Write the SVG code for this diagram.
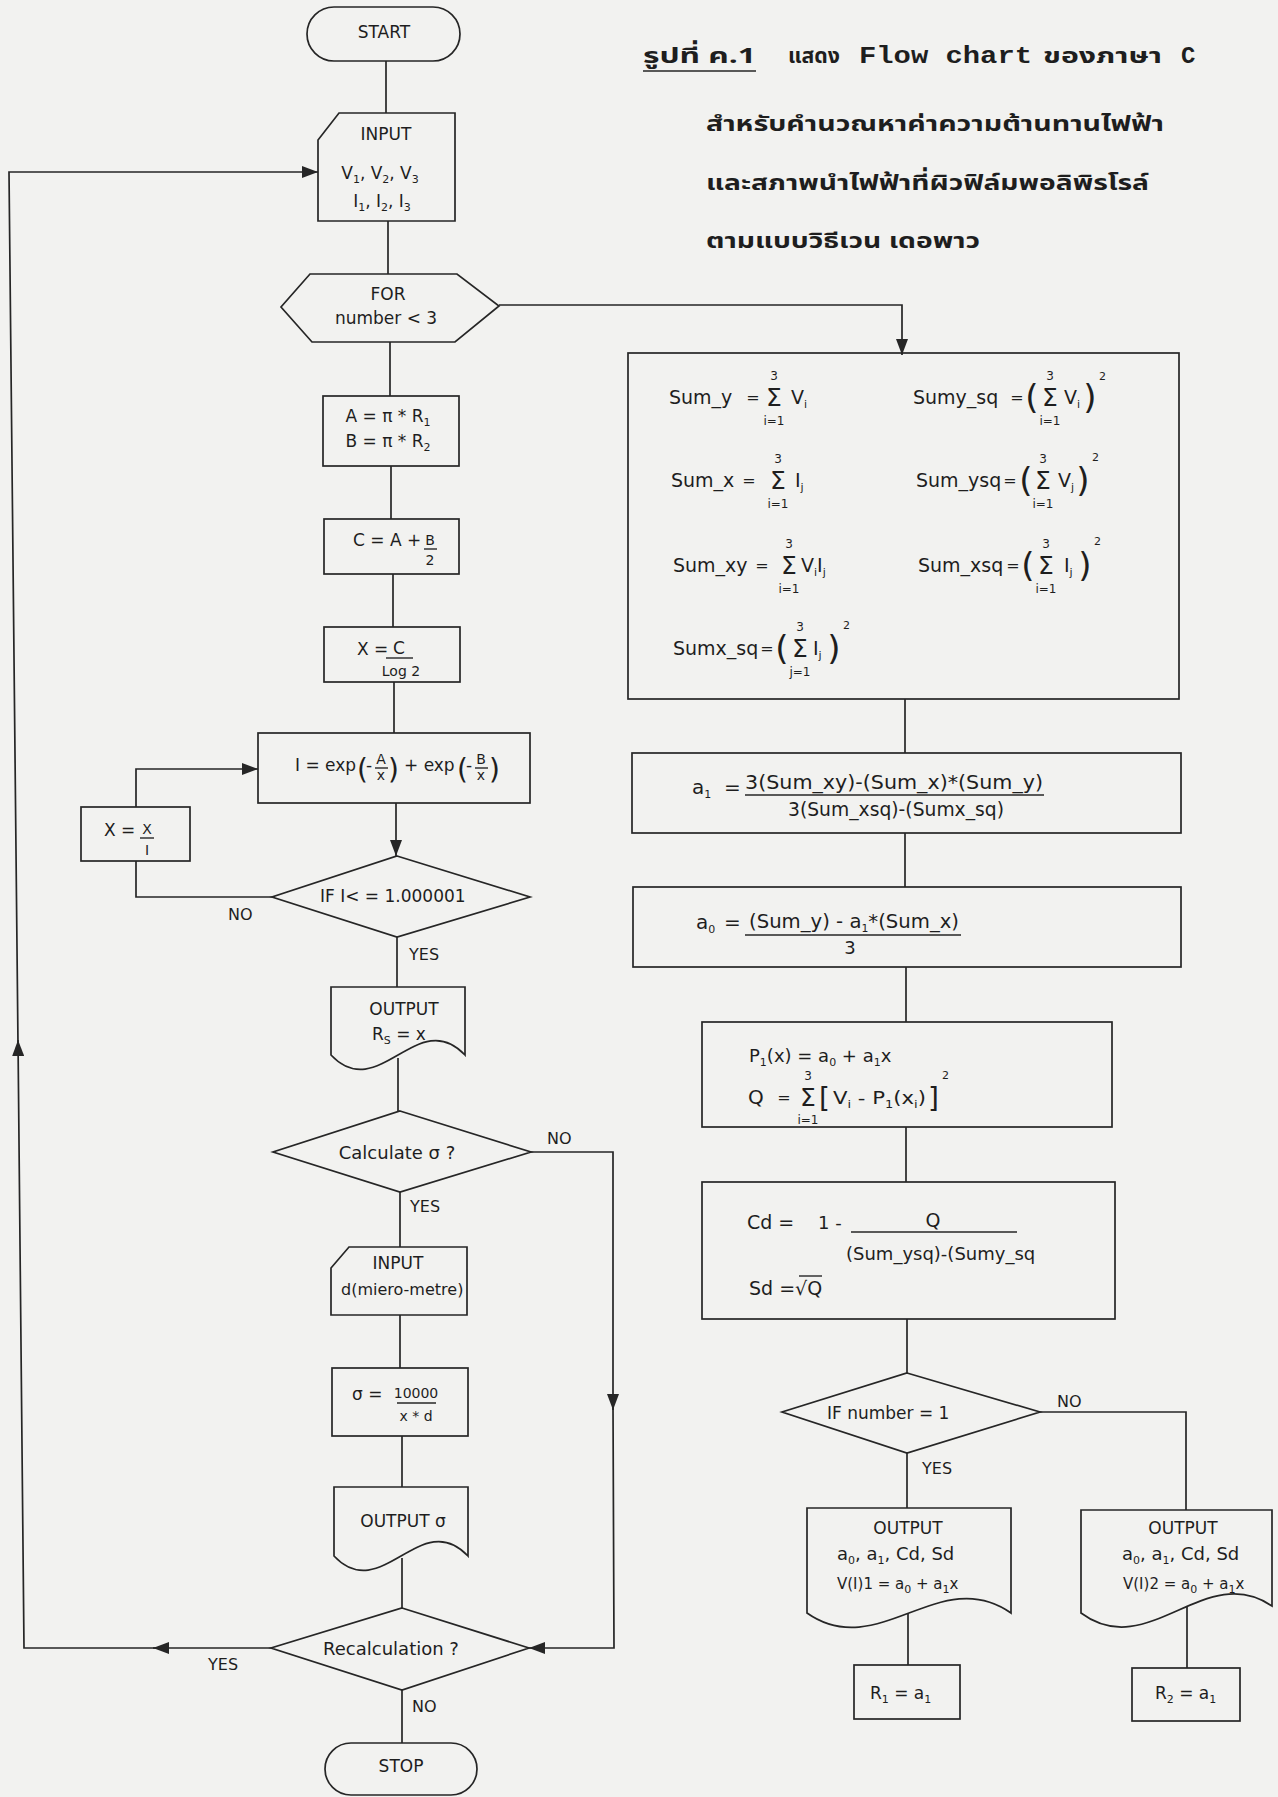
<svg xmlns="http://www.w3.org/2000/svg" width="1278" height="1797" viewBox="0 0 1278 1797">
<defs>
<style>
.n{fill:none;stroke:#262626;stroke-width:1.7}
.c{fill:none;stroke:#262626;stroke-width:1.7}
.fl{stroke:#262626;stroke-width:1.4}
text{font-family:"DejaVu Sans","Liberation Sans",sans-serif;fill:#1e1e1e;font-size:17px}
.m{text-anchor:middle}
.s{font-size:11px}
.sm{font-size:14px}
.lb{font-size:16px}
.bg{font-size:19px}
.eq{font-size:16px;text-anchor:middle}
.lim{font-size:12px;text-anchor:middle}
.sig{font-size:25px;text-anchor:middle}
.par{font-size:34px;text-anchor:middle}
.pp{font-size:28px}
.th{font-family:"Noto Sans Thai","Noto Serif Thai","TlwgTypewriter","Garuda","Loma","Noto Sans",sans-serif;font-weight:bold;font-size:22px}
.mono{font-family:"Liberation Mono","DejaVu Sans Mono",monospace;font-weight:bold;font-size:24px}
</style>
<marker id="ah" viewBox="0 0 16 12" refX="16" refY="6" markerWidth="16" markerHeight="12" markerUnits="userSpaceOnUse" orient="auto"><path d="M0,0 L16,6 L0,12 z" fill="#262626"/></marker>
</defs>
<rect x="0" y="0" width="1278" height="1797" fill="#f2f2f0"/>

<g id="title">
<text class="th" x="643" y="63" textLength="113" lengthAdjust="spacingAndGlyphs">รูปที่ ค.1</text>
<line x1="643" y1="71" x2="756" y2="71" class="fl"/>
<text class="th" x="788" y="63" textLength="52" lengthAdjust="spacingAndGlyphs">แสดง</text>
<text class="mono" x="859" y="63" textLength="173" lengthAdjust="spacingAndGlyphs">Flow chart</text>
<text class="th" x="1043" y="63" textLength="119" lengthAdjust="spacingAndGlyphs">ของภาษา</text>
<text class="mono" x="1181" y="63">C</text>
<text class="th" x="706" y="131" textLength="458" lengthAdjust="spacingAndGlyphs">สำหรับคำนวณหาค่าความต้านทานไฟฟ้า</text>
<text class="th" x="706" y="190" textLength="443" lengthAdjust="spacingAndGlyphs">และสภาพนำไฟฟ้าที่ผิวฟิล์มพอลิพิรโรล์</text>
<text class="th" x="706" y="248" textLength="274" lengthAdjust="spacingAndGlyphs">ตามแบบวิธีเวน เดอพาว</text>
</g>

<g id="connectors">
<path class="c" d="M386,61 V113"/>
<path class="c" d="M388,221 V274"/>
<path class="c" d="M499,305 H902 V355" marker-end="url(#ah)"/>
<path class="c" d="M390,342 V396"/>
<path class="c" d="M391,466 V519"/>
<path class="c" d="M393,574 V627"/>
<path class="c" d="M394,682 V733"/>
<path class="c" d="M396,803 V856" marker-end="url(#ah)"/>
<path class="c" d="M272,897 H136 V861"/>
<path class="c" d="M136,807 V769 H258" marker-end="url(#ah)"/>
<path class="c" d="M397,937 V987"/>
<path class="c" d="M398,1058 V1111"/>
<path class="c" d="M400,1192 V1247"/>
<path class="c" d="M531,1152 H613 V1410" marker-end="url(#ah)"/>
<path class="c" d="M613,1405 L614,1648 H529" marker-end="url(#ah)"/>
<path class="c" d="M400,1315 V1368"/>
<path class="c" d="M402,1436 V1487"/>
<path class="c" d="M402,1558 V1608"/>
<path class="c" d="M271,1648 H153" marker-end="url(#ah)"/>
<path class="c" d="M158,1648 H24 L18,1040" marker-end="url(#ah)"/>
<path class="c" d="M18,1045 L9,172 H318" marker-end="url(#ah)"/>
<path class="c" d="M402,1690 V1743"/>
<path class="c" d="M905,699 V753"/>
<path class="c" d="M905,833 V887"/>
<path class="c" d="M906,967 V1022"/>
<path class="c" d="M906,1127 V1182"/>
<path class="c" d="M907,1319 V1373"/>
<path class="c" d="M907,1453 V1508"/>
<path class="c" d="M1040,1412 H1186 V1510"/>
<path class="c" d="M908,1613 V1665"/>
<path class="c" d="M1187,1606 V1668"/>
<text class="lb" x="228" y="920">NO</text>
<text class="lb" x="409" y="960">YES</text>
<text class="lb" x="547" y="1144">NO</text>
<text class="lb" x="410" y="1212">YES</text>
<text class="lb" x="208" y="1670">YES</text>
<text class="lb" x="412" y="1712">NO</text>
<text class="lb" x="1057" y="1407">NO</text>
<text class="lb" x="922" y="1474">YES</text>
</g>

<g id="start">
<rect class="n" x="307" y="7" width="153" height="54" rx="27"/>
<text class="m" x="384" y="38">START</text>
</g>

<g id="input1">
<path class="n" d="M339,113 H455 V221 H318 V140 Z"/>
<text class="m" x="386" y="140">INPUT</text>
<text class="m" x="380" y="179">V<tspan class="s" baseline-shift="-4">1</tspan>, V<tspan class="s" baseline-shift="-4">2</tspan>, V<tspan class="s" baseline-shift="-4">3</tspan></text>
<text class="m" x="382" y="207">I<tspan class="s" baseline-shift="-4">1</tspan>, I<tspan class="s" baseline-shift="-4">2</tspan>, I<tspan class="s" baseline-shift="-4">3</tspan></text>
</g>

<g id="for">
<polygon class="n" points="310,274 457,274 499,306 455,342 312,342 281,307"/>
<text class="m" x="388" y="300">FOR</text>
<text class="m" x="386" y="324">number &lt; 3</text>
</g>

<g id="ab">
<rect class="n" x="323" y="396" width="136" height="70"/>
<text class="m" x="388" y="422">A = π * R<tspan class="s" baseline-shift="-4">1</tspan></text>
<text class="m" x="388" y="447">B = π * R<tspan class="s" baseline-shift="-4">2</tspan></text>
</g>

<g id="cbox">
<rect class="n" x="324" y="519" width="135" height="55"/>
<text x="353" y="546">C = A +</text>
<text class="m sm" x="430" y="545">B</text>
<line class="fl" x1="424" y1="549" x2="437" y2="549"/>
<text class="m sm" x="430" y="565">2</text>
</g>

<g id="xbox">
<rect class="n" x="324" y="627" width="136" height="55"/>
<text x="357" y="655">X =</text>
<text class="m" x="399" y="654">C</text>
<line class="fl" x1="386" y1="658" x2="413" y2="658"/>
<text class="m sm" x="401" y="676">Log 2</text>
</g>

<g id="ibox">
<rect class="n" x="258" y="733" width="272" height="70"/>
<text x="295" y="771">I = exp</text>
<text class="pp" x="357" y="779">(</text>
<text x="366" y="771">-</text>
<text class="m sm" x="381" y="764">A</text>
<line class="fl" x1="375" y1="768" x2="388" y2="768"/>
<text class="m sm" x="381" y="780">x</text>
<text class="pp" x="388" y="779">)</text>
<text x="404" y="771">+ exp</text>
<text class="pp" x="457" y="779">(</text>
<text x="466" y="771">-</text>
<text class="m sm" x="481" y="764">B</text>
<line class="fl" x1="475" y1="768" x2="488" y2="768"/>
<text class="m sm" x="481" y="780">x</text>
<text class="pp" x="489" y="779">)</text>
</g>

<g id="xibox">
<rect class="n" x="81" y="807" width="109" height="54"/>
<text x="104" y="836">X =</text>
<text class="m sm" x="147" y="834">X</text>
<line class="fl" x1="140" y1="838" x2="154" y2="838"/>
<text class="m sm" x="147" y="855">I</text>
</g>

<g id="if1">
<polygon class="n" points="397,856 530,897 397,937 272,897"/>
<text x="320" y="902">IF  I&lt; = 1.000001</text>
</g>

<g id="outrs">
<path class="n" d="M331,987 H465 V1055 C418,1005 378,1105 331,1055 Z"/>
<text class="m" x="404" y="1015">OUTPUT</text>
<text x="372" y="1040">R<tspan class="s" baseline-shift="-4">S</tspan> = x</text>
</g>

<g id="calc">
<polygon class="n" points="400,1111 531,1152 400,1192 273,1152"/>
<text class="m" x="397" y="1159" style="font-size:18px">Calculate σ ?</text>
</g>

<g id="inputd">
<path class="n" d="M349,1247 H467 V1315 H331 V1268 Z"/>
<text class="m" x="398" y="1269">INPUT</text>
<text x="341" y="1295" style="font-size:16px">d(miero-metre)</text>
</g>

<g id="sigbox">
<rect class="n" x="332" y="1368" width="136" height="68"/>
<text x="352" y="1400">σ =</text>
<text class="m sm" x="416" y="1398">10000</text>
<line class="fl" x1="397" y1="1403" x2="436" y2="1403"/>
<text class="m sm" x="416" y="1421">x * d</text>
</g>

<g id="outsig">
<path class="n" d="M334,1487 H468 V1556 C421,1506 381,1606 334,1556 Z"/>
<text class="m" x="403" y="1527">OUTPUT σ</text>
</g>

<g id="recalc">
<polygon class="n" points="402,1608 529,1648 402,1690 271,1648"/>
<text class="m" x="391" y="1655" style="font-size:18px">Recalculation ?</text>
</g>

<g id="stop">
<rect class="n" x="325" y="1743" width="152" height="52" rx="26"/>
<text class="m" x="401" y="1772">STOP</text>
</g>

<g id="sums">
<rect class="n" x="628" y="353" width="551" height="346"/>
<text class="bg" x="669" y="404">Sum_y</text>
<text class="eq" x="753" y="403">=</text>
<text class="sig" x="774" y="406">Σ</text>
<text class="lim" x="774" y="380">3</text>
<text class="lim" x="774" y="425">i=1</text>
<text class="bg" x="791" y="404">V<tspan class="s" baseline-shift="-4">i</tspan></text>
<text class="bg" x="913" y="404">Sumy_sq</text>
<text class="eq" x="1017" y="403">=</text>
<text class="par" x="1032" y="409">(</text>
<text class="sig" x="1050" y="406">Σ</text>
<text class="lim" x="1050" y="380">3</text>
<text class="lim" x="1050" y="425">i=1</text>
<text class="bg" x="1064" y="404">V<tspan class="s" baseline-shift="-4">i</tspan></text>
<text class="par" x="1090" y="409">)</text>
<text class="s" x="1099" y="380">2</text>

<text class="bg" x="671" y="487">Sum_x</text>
<text class="eq" x="749" y="486">=</text>
<text class="sig" x="778" y="489">Σ</text>
<text class="lim" x="778" y="463">3</text>
<text class="lim" x="778" y="508">i=1</text>
<text class="bg" x="795" y="487">I<tspan class="s" baseline-shift="-4">j</tspan></text>
<text class="bg" x="916" y="487">Sum_ysq</text>
<text class="eq" x="1010" y="486">=</text>
<text class="par" x="1026" y="492">(</text>
<text class="sig" x="1043" y="489">Σ</text>
<text class="lim" x="1043" y="463">3</text>
<text class="lim" x="1043" y="508">i=1</text>
<text class="bg" x="1058" y="487">V<tspan class="s" baseline-shift="-4">j</tspan></text>
<text class="par" x="1083" y="492">)</text>
<text class="s" x="1092" y="461">2</text>

<text class="bg" x="673" y="572">Sum_xy</text>
<text class="eq" x="762" y="571">=</text>
<text class="sig" x="789" y="574">Σ</text>
<text class="lim" x="789" y="548">3</text>
<text class="lim" x="789" y="593">i=1</text>
<text class="bg" x="801" y="572">V<tspan class="s" baseline-shift="-4">i</tspan>I<tspan class="s" baseline-shift="-4">j</tspan></text>
<text class="bg" x="918" y="572">Sum_xsq</text>
<text class="eq" x="1013" y="571">=</text>
<text class="par" x="1028" y="577">(</text>
<text class="sig" x="1046" y="574">Σ</text>
<text class="lim" x="1046" y="548">3</text>
<text class="lim" x="1046" y="593">i=1</text>
<text class="bg" x="1064" y="572">I<tspan class="s" baseline-shift="-4">j</tspan></text>
<text class="par" x="1085" y="577">)</text>
<text class="s" x="1094" y="545">2</text>

<text class="bg" x="673" y="655">Sumx_sq</text>
<text class="eq" x="767" y="654">=</text>
<text class="par" x="782" y="660">(</text>
<text class="sig" x="800" y="657">Σ</text>
<text class="lim" x="800" y="631">3</text>
<text class="lim" x="800" y="676">j=1</text>
<text class="bg" x="813" y="655">I<tspan class="s" baseline-shift="-4">j</tspan></text>
<text class="par" x="834" y="660">)</text>
<text class="s" x="843" y="629">2</text>
</g>

<g id="a1box">
<rect class="n" x="632" y="753" width="549" height="80"/>
<text style="font-size:20px" x="692" y="794">a<tspan class="s" baseline-shift="-4">1</tspan></text>
<text style="font-size:20px" x="724" y="794">=</text>
<text style="font-size:20px" x="745" y="789" textLength="298" lengthAdjust="spacingAndGlyphs">3(Sum_xy)-(Sum_x)*(Sum_y)</text>
<line class="fl" x1="745" y1="795" x2="1044" y2="795"/>
<text style="font-size:20px" x="788" y="816" textLength="216" lengthAdjust="spacingAndGlyphs">3(Sum_xsq)-(Sumx_sq)</text>
</g>

<g id="a0box">
<rect class="n" x="633" y="887" width="548" height="80"/>
<text style="font-size:20px" x="696" y="929">a<tspan class="s" baseline-shift="-4">0</tspan></text>
<text style="font-size:20px" x="724" y="929">=</text>
<text style="font-size:20px" x="749" y="928" textLength="210" lengthAdjust="spacingAndGlyphs">(Sum_y) - a<tspan class="s" baseline-shift="-4">1</tspan>*(Sum_x)</text>
<line class="fl" x1="745" y1="935" x2="961" y2="935"/>
<text class="m" x="850" y="954" style="font-size:18px">3</text>
</g>

<g id="pbox">
<rect class="n" x="702" y="1022" width="410" height="105"/>
<text style="font-size:18px" x="749" y="1062">P<tspan class="s" baseline-shift="-4">1</tspan>(x) = a<tspan class="s" baseline-shift="-4">0</tspan> + a<tspan class="s" baseline-shift="-4">1</tspan>x</text>
<text style="font-size:20px" x="748" y="1104">Q</text>
<text class="eq" x="784" y="1103">=</text>
<text class="sig" x="808" y="1106">Σ</text>
<text class="lim" x="808" y="1080">3</text>
<text class="lim" x="808" y="1124">i=1</text>
<text class="pp" x="819" y="1108">[</text>
<text style="font-size:18px" x="833" y="1104" textLength="93" lengthAdjust="spacingAndGlyphs">V<tspan class="s" baseline-shift="-4">i</tspan> - P<tspan class="s" baseline-shift="-4">1</tspan>(x<tspan class="s" baseline-shift="-4">i</tspan>)</text>
<text class="pp" x="928" y="1108">]</text>
<text class="s" x="942" y="1079">2</text>
</g>

<g id="cdbox">
<rect class="n" x="702" y="1182" width="413" height="137"/>
<text style="font-size:19px" x="747" y="1229">Cd  =</text>
<text style="font-size:18px" x="818" y="1229">1 -</text>
<text class="m" style="font-size:19px" x="933" y="1227">Q</text>
<line class="fl" x1="851" y1="1232" x2="1017" y2="1232"/>
<text style="font-size:18px" x="846" y="1260">(Sum_ysq)-(Sumy_sq</text>
<text style="font-size:19px" x="749" y="1295">Sd =√Q</text>
<line class="fl" x1="799" y1="1276" x2="822" y2="1276"/>
</g>

<g id="if2">
<polygon class="n" points="907,1373 1040,1412 907,1453 782,1412"/>
<text x="827" y="1419">IF  number = 1</text>
</g>

<g id="out1">
<path class="n" d="M807,1508 H1011 V1613 C940,1563 878,1663 807,1613 Z"/>
<text class="m" x="908" y="1534">OUTPUT</text>
<text x="837" y="1560" style="font-size:18px">a<tspan class="s" baseline-shift="-4">0</tspan>, a<tspan class="s" baseline-shift="-4">1</tspan>, Cd, Sd</text>
<text x="837" y="1589" style="font-size:15px">V(I)1 = a<tspan class="s" baseline-shift="-4">0</tspan> + a<tspan class="s" baseline-shift="-4">1</tspan>x</text>
</g>

<g id="r1">
<rect class="n" x="854" y="1665" width="106" height="54"/>
<text x="870" y="1699">R<tspan class="s" baseline-shift="-4">1</tspan> = a<tspan class="s" baseline-shift="-4">1</tspan></text>
</g>

<g id="out2">
<path class="n" d="M1081,1510 H1272 V1606 C1205,1560 1148,1663 1081,1613 Z"/>
<text class="m" x="1183" y="1534">OUTPUT</text>
<text x="1122" y="1560" style="font-size:18px">a<tspan class="s" baseline-shift="-4">0</tspan>, a<tspan class="s" baseline-shift="-4">1</tspan>, Cd, Sd</text>
<text x="1123" y="1589" style="font-size:15px">V(I)2 = a<tspan class="s" baseline-shift="-4">0</tspan> + a<tspan class="s" baseline-shift="-4">1</tspan>x</text>
</g>

<g id="r2">
<rect class="n" x="1132" y="1668" width="108" height="53"/>
<text x="1155" y="1699">R<tspan class="s" baseline-shift="-4">2</tspan> = a<tspan class="s" baseline-shift="-4">1</tspan></text>
</g>
</svg>
